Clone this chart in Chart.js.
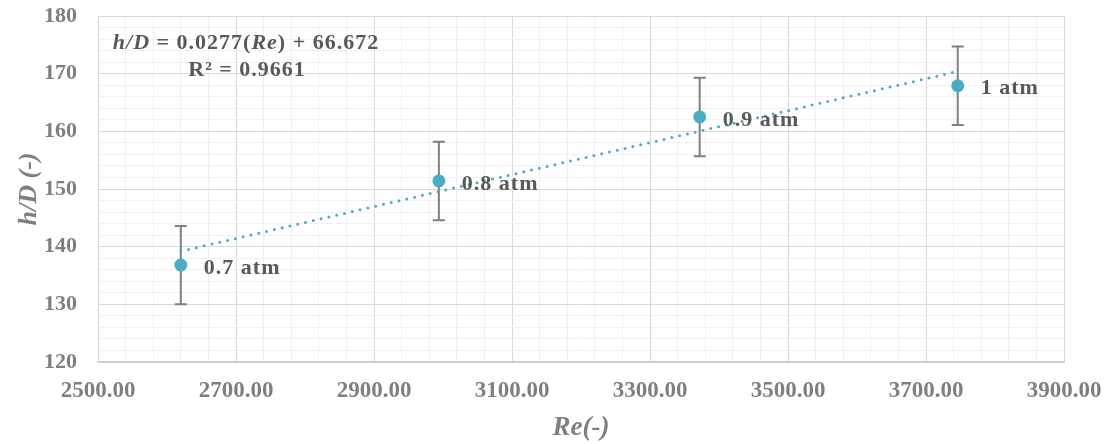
<!DOCTYPE html>
<html>
<head>
<meta charset="utf-8">
<script src="https://cdn.jsdelivr.net/npm/chart.js@4.4.1/dist/chart.umd.min.js"></script>
<style>
  html, body { margin: 0; padding: 0; background: #fff; }
  #wrap { width: 1110px; height: 444px; }
</style>
</head>
<body>
<div id="wrap"><canvas id="chart"></canvas></div>
<script>
// values
const reValues = [2620, 2994, 3372, 3746];
const hdValues = [136.8, 151.4, 162.5, 167.9];
const hdErrors = [6.8, 6.8, 6.8, 6.8];
const pointLabels = ['0.7 atm', '0.8 atm', '0.9 atm', '1 atm'];
// linear trendline ends (Excel fit)
const trendRe = [2620, 3746];
const trendHd = [139.2, 170.4];

const xTicks = { min: 2500, max: 3900, major: 200, minor: 40 };
const yTicks = { min: 120, max: 180, major: 10, minor: 2 };

const serif = '"Liberation Serif", "Times New Roman", serif';
const aqua = '#4BACC6';

// error bars behind the markers
const errorBars = {
    id: 'errorBars',
    beforeDatasetsDraw(chart) {
        const { ctx, scales: { x, y } } = chart;
        ctx.save();
        ctx.strokeStyle = '#7f7f7f';
        ctx.lineWidth = 2;
        reValues.forEach((re, i) => {
            const px = x.getPixelForValue(re);
            const top = y.getPixelForValue(hdValues[i] + hdErrors[i]);
            const bot = y.getPixelForValue(hdValues[i] - hdErrors[i]);
            ctx.beginPath();
            ctx.moveTo(px, top); ctx.lineTo(px, bot);
            ctx.moveTo(px - 6, top); ctx.lineTo(px + 6, top);
            ctx.moveTo(px - 6, bot); ctx.lineTo(px + 6, bot);
            ctx.stroke();
        });
        ctx.restore();
    }
};

// point labels and the trendline equation
const textLayer = {
    id: 'textLayer',
    afterDatasetsDraw(chart) {
        const { ctx, scales: { x, y } } = chart;
        ctx.save();
        ctx.fillStyle = '#595959';
        ctx.textBaseline = 'middle';
        ctx.textAlign = 'left';
        ctx.letterSpacing = '1px';
        ctx.font = 'bold 22px ' + serif;
        pointLabels.forEach((lbl, i) => {
            ctx.fillText(lbl, x.getPixelForValue(reValues[i]) + 23, y.getPixelForValue(hdValues[i]) + 3);
        });

        const parts = [
            ['h/D', true], [' = 0.0277(', false], ['Re', true], [') + 66.672', false]
        ];
        const fontFor = it => (it ? 'italic bold 22px ' : 'bold 22px ') + serif;
        let total = 0;
        parts.forEach(p => { ctx.font = fontFor(p[1]); total += ctx.measureText(p[0]).width; });
        let cx = 246 - total / 2;
        parts.forEach(p => {
            ctx.font = fontFor(p[1]);
            ctx.fillText(p[0], cx, 43);
            cx += ctx.measureText(p[0]).width;
        });
        ctx.font = 'bold 22px ' + serif;
        ctx.textAlign = 'center';
        ctx.fillText('R² = 0.9661', 247, 70);
        ctx.restore();
    }
};

const isMajor = (v, t) => Math.round(v - t.min) % t.major === 0;
const gridColor = t => c => (isMajor(c.tick.value, t) ? '#d9d9d9' : '#f0f0f0');

// fixed box sizes, no extra padding for overhanging labels
const fitX = s => { s.height = 82; s.paddingLeft = 0; s.paddingRight = 0; };
const fitY = s => { s.width = 98; s.paddingTop = 0; s.paddingBottom = 0; };

new Chart(document.getElementById('chart'), {
    type: 'scatter',
    data: {
        datasets: [
            {
                label: 'h/D',
                data: reValues.map((re, i) => ({ x: re, y: hdValues[i] })),
                backgroundColor: aqua,
                borderColor: aqua,
                pointRadius: 6.5,
                pointBorderWidth: 0,
                order: 1
            },
            {
                type: 'line',
                label: 'Trend',
                data: trendRe.map((re, i) => ({ x: re, y: trendHd[i] })),
                borderColor: aqua,
                borderWidth: 3,
                borderDash: [0, 8],
                borderCapStyle: 'round',
                pointRadius: 0,
                fill: false,
                order: 0
            }
        ]
    },
    options: {
        responsive: true,
        maintainAspectRatio: false,
        animation: false,
        layout: { padding: { left: 0, top: 16, right: 46, bottom: 0 } },
        plugins: {
            legend: { display: false },
            tooltip: { enabled: false }
        },
        scales: {
            x: {
                type: 'linear',
                min: xTicks.min,
                max: xTicks.max,
                afterFit: fitX,
                border: { color: '#c8c8c8', width: 1.5 },
                grid: { color: gridColor(xTicks), drawTicks: false },
                ticks: {
                    stepSize: xTicks.minor,
                    autoSkip: false,
                    maxRotation: 0,
                    padding: 15,
                    color: '#7f7f7f',
                    font: { family: serif, size: 23, weight: 'bold' },
                    callback: v => (isMajor(v, xTicks) ? Number(v).toFixed(2) : '')
                },
                title: {
                    display: true,
                    text: 'Re(-)',
                    color: '#7f7f7f',
                    font: { family: serif, size: 27, weight: 'bold', style: 'italic' },
                    padding: { top: 0, bottom: 0 }
                }
            },
            y: {
                min: yTicks.min,
                max: yTicks.max,
                afterFit: fitY,
                border: { color: '#d9d9d9' },
                grid: { color: gridColor(yTicks), drawTicks: false },
                ticks: {
                    stepSize: yTicks.minor,
                    autoSkip: false,
                    padding: 21,
                    color: '#7f7f7f',
                    font: { family: serif, size: 22, weight: 'bold' },
                    callback: v => (isMajor(v, yTicks) ? String(Math.round(v)) : '')
                },
                title: {
                    display: true,
                    text: 'h/D (-)',
                    color: '#7f7f7f',
                    font: { family: serif, size: 26, weight: 'bold', style: 'italic' },
                    padding: { top: 14, bottom: 0 }
                }
            }
        }
    },
    plugins: [errorBars, textLayer]
});
</script>
</body>
</html>
